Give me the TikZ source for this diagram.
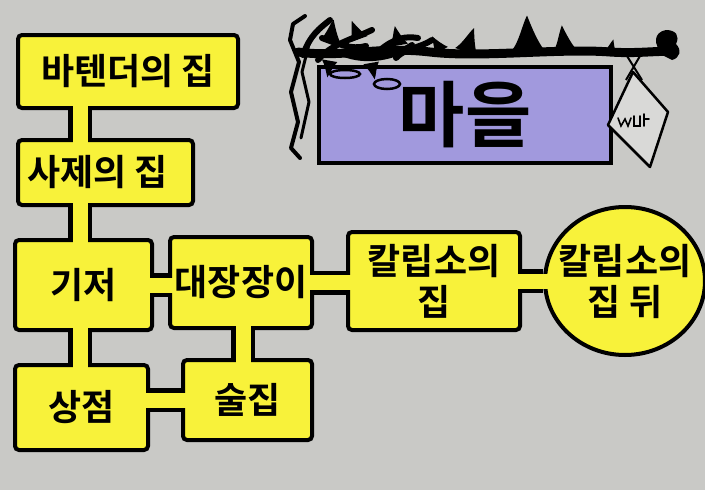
\documentclass[tikz,border=0pt]{standalone}
\usepackage{fontspec}
\newfontfamily\kr{Noto Sans CJK KR Bold}
\usetikzlibrary{shapes.geometric}
\definecolor{paper}{HTML}{C9C9C6}
\definecolor{roomyellow}{HTML}{F8F23A}
\definecolor{boardblue}{HTML}{A199DD}
\tikzset{
  room/.style={draw=black,fill=roomyellow,line width=4pt,rounded corners=4pt,
    inner sep=0pt,align=center,font=\kr\fontsize{36}{41}\selectfont},
  hall/.style={draw=black,line width=24pt},
  hallfill/.style={draw=roomyellow,line width=15pt,shorten <=-5pt,shorten >=-5pt},
  vine/.style={line width=9pt,line cap=round,line join=round},
}
\begin{document}
\begin{tikzpicture}[x=1pt,y=-1pt]
\useasboundingbox (0,0) rectangle (705,490);
\fill[paper] (0,0) rectangle (705,490);

% rooms
\node[room,minimum width=220pt,minimum height=73pt] (bar) at (128,71.5) {바텐더의 집};
\node[room,minimum width=175pt,minimum height=65pt] (priest) at (105.5,172.5) {사제의 집\hspace*{16pt}};
\node[room,minimum width=137pt,minimum height=90pt] (base) at (83.5,285) {기저};
\node[room,minimum width=142pt,minimum height=91pt] (smith) at (241,282.5) {대장장이};
\node[room,minimum width=133pt,minimum height=85pt] (shop) at (81.5,407.5) {상점};
\node[room,minimum width=129pt,minimum height=80pt] (pub) at (247.5,400) {술집};
\node[room,minimum width=172pt,minimum height=98pt] (calypso) at (434,281) {칼립소의\\집};
\node[room,ellipse,inner sep=-22pt,minimum width=160pt,minimum height=148pt] (back) at (625,281) {칼립소의\\집 뒤};

% corridors between rooms
\coordinate (spine) at (80,0);
\foreach \p/\q in {
  {(bar.south -| spine)}/{(priest.north -| spine)},
  {(priest.south -| spine)}/{(base.north -| spine)},
  {(base.south -| spine)}/{(shop.north -| spine)},
  {(base.east)}/{(base.east -| smith.west)},
  {(pub.west -| shop.east)}/{(pub.west)},
  {([xshift=2pt]smith.south)}/{([xshift=2pt]smith.south |- pub.north)},
  {(smith.east)}/{(smith.east -| calypso.west)},
  {(calypso.east)}/{(back.west)}}
  {\draw[hall] \p -- \q; \draw[hallfill] \p -- \q;}

% town sign hanging from a branch
\draw[vine,line width=4pt] (305,16) -- (293,24) -- (290,40) -- (299,62) -- (291,92) -- (298,122) -- (291,148) -- (300,158);
\draw[vine,line width=3pt] (310,40) -- (302,72) -- (309,102) -- (301,138);
\node[draw=black,fill=boardblue,line width=3.5pt,minimum width=292pt,minimum height=96pt,
  font=\kr\fontsize{72}{72}\selectfont] (board) at (465,115) {마을};
\draw[line width=2.5pt] (345,74) ellipse (15pt and 4pt) (387,84) ellipse (13pt and 5pt);
\draw[vine] (298,52) .. controls (340,58) and (380,46) .. (430,52)
  .. controls (480,58) and (560,48) .. (610,52) .. controls (640,54) and (660,50) .. (672,52);
\draw[vine,line width=6pt] (303,55) .. controls (310,35) and (320,28) .. (330,20)
  (318,60) .. controls (330,45) and (350,40) .. (372,30)
  (340,52) .. controls (360,62) and (390,60) .. (412,45)
  (380,50) .. controls (395,38) and (405,36) .. (418,38)
  (322,38) .. controls (338,44) and (352,50) .. (366,46)
  (396,58) .. controls (405,48) and (420,48) .. (432,40);
% leaves along the branch
\foreach \x/\y/\r/\s in {330/40/-10/0.8, 358/38/20/0.7, 398/44/10/0.7, 440/50/30/0.6, 466/50/-20/0.9,
    527/48/0/1.25, 564/50/5/0.95, 610/52/-15/0.5, 330/62/170/0.6, 372/64/190/0.6}
  \fill[shift={(\x,\y)},rotate=\r,scale=\s] (-12,2) .. controls (-6,-6) and (-4,-18) .. (0,-26)
    .. controls (4,-16) and (8,-6) .. (14,2) -- cycle;
\fill (664,56) .. controls (652,44) and (654,32) .. (666,30) .. controls (676,30) and (680,36) .. (676,44)
  .. controls (682,50) and (680,58) .. (672,60) -- cycle;
\draw[line width=2pt] (627,56) -- (642,80) (640,56) -- (626,80);
\draw[line width=2.5pt,fill=paper!70!white,line join=round]
  (633,72) -- (668,112) -- (650,167) -- (608,125) -- cycle;
\draw[line width=1.6pt,line cap=round] (618,118) -- (621,126) -- (625,119) -- (628,126) -- (631,118)
  (634,116) -- (634,126) -- (640,126) -- (640,116) (644,114) -- (644,126) (644,119) -- (649,119);
\end{tikzpicture}
\end{document}
